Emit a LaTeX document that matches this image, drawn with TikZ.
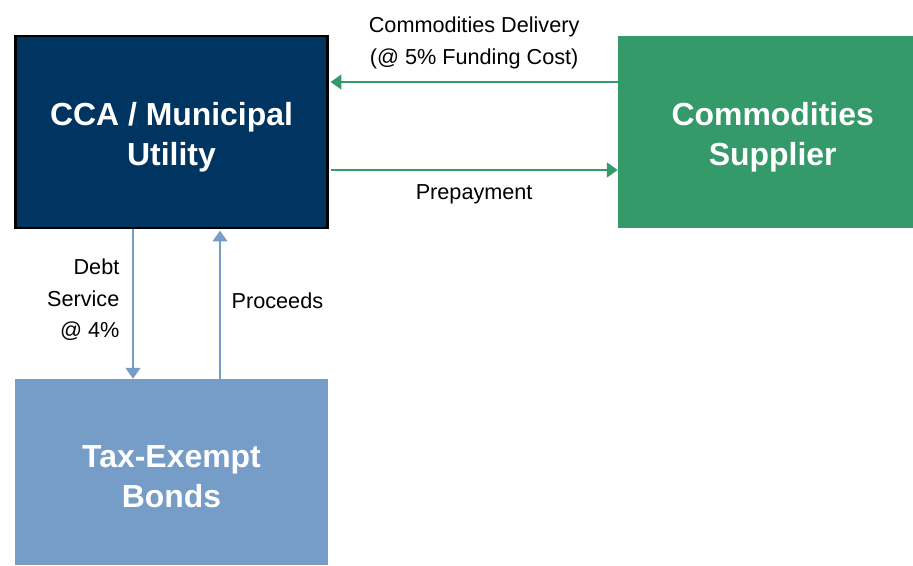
\documentclass[tikz,border=0pt]{standalone}
\usepackage{fontspec}
\setmainfont{Liberation Sans}
\usepackage{tikz}
\usetikzlibrary{positioning, arrows.meta, calc}
\usepackage{xcolor}
\definecolor{Navy}{HTML}{003562}
\definecolor{SupplyGreen}{HTML}{359A69}
\definecolor{BondBlue}{HTML}{769CC8}

\begin{document}
\begin{tikzpicture}[x=0.025cm, y=-0.025cm,
        party/.style={text=white, font=\fontsize{22.7}{28.5}\selectfont\bfseries,
                      align=center, inner sep=0pt, yshift=-0.12cm},
        flowlabel/.style={font=\fontsize{15.4}{22.5}\selectfont, inner sep=0pt},
        greenflow/.style={draw=SupplyGreen, line width=1.4pt,
                          -{Triangle[length=0.27cm, width=0.37cm]}},
        blueflow/.style={draw=BondBlue, line width=1.2pt,
                         -{Triangle[length=0.27cm, width=0.37cm]}}]
            \useasboundingbox (0,0) rectangle (913,565);
            \node[draw=black, line width=1.5pt, fill=Navy,
                  minimum width=7.8cm, minimum height=4.78cm,
                  label={[party]center:CCA / Municipal\\Utility}]
                (cca) at (171.5,132) {};
            \node[fill=SupplyGreen, minimum width=7.375cm, minimum height=4.8cm,
                  label={[party, xshift=0.18cm]center:Commodities\\Supplier}]
                (supplier) at (765.5,132) {};
            \node[fill=BondBlue, minimum width=7.825cm, minimum height=4.65cm,
                  label={[party]center:Tax-Exempt\\Bonds}]
                (bonds) at (171.5,472) {};

            \draw[greenflow] ($(supplier.west)+(0,-50)$) -- ($(cca.east)+(2,-50)$)
                node[flowlabel, midway, anchor=south, align=center, yshift=0.3cm]
                    {Commodities Delivery\\(@ 5\% Funding Cost)};
            \draw[greenflow] ($(cca.east)+(2,38)$) -- ($(supplier.west)+(0,38)$)
                node[flowlabel, midway, anchor=north, yshift=-0.35cm] {Prepayment};

            \draw[blueflow] ($(cca.south)+(-38.5,0)$) -- ($(bonds.north)+(-38.5,0)$)
                node[flowlabel, midway, anchor=east, align=right, xshift=-0.32cm,
                     yshift=0.1cm] {Debt\\Service\\@ 4\%};
            \draw[blueflow] ($(bonds.north)+(48.5,0)$) -- ($(cca.south)+(48.5,2)$)
                node[flowlabel, midway, anchor=west, xshift=0.27cm,
                     yshift=0.1cm] {Proceeds};
        \end{tikzpicture}
\end{document}
